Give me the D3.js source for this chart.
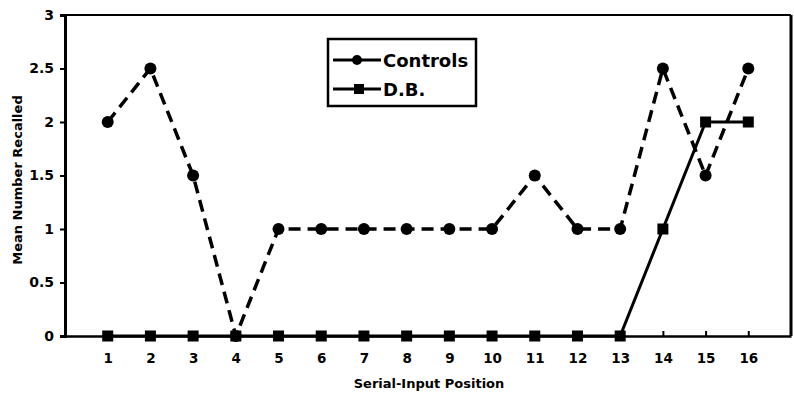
<!DOCTYPE html>
<html><head><meta charset="utf-8">
<script src="https://cdn.jsdelivr.net/npm/d3@7"></script>
<style>body{margin:0;background:#fff}svg{display:block}text{font-family:"DejaVu Sans",Arial,sans-serif;font-weight:bold;fill:#000}</style>
</head><body>
<svg id="c" width="794" height="400"></svg>
<script>
const positions = [1,2,3,4,5,6,7,8,9,10,11,12,13,14,15,16];
const controls = [2,2.5,1.5,0,1,1,1,1,1,1,1.5,1,1,2.5,1.5,2.5];
const db = [0,0,0,0,0,0,0,0,0,0,0,0,0,1,2,2];
const yTicks = [0,0.5,1,1.5,2,2.5,3];
const seriesNames = ["Controls","D.B."];

const svg = d3.select("#c");
const L=65,R=791,T=15,B=336;
const x = d3.scaleLinear().domain([0,17]).range([L,R]);
const y = d3.scaleLinear().domain([0,3]).range([B,T]);
const FF = "DejaVu Sans, Arial, sans-serif";

// frame
svg.append("line").attr("x1",L).attr("x2",R).attr("y1",T).attr("y2",T).attr("stroke","#000").attr("stroke-width",2);
svg.append("line").attr("x1",R).attr("x2",R).attr("y1",T).attr("y2",B).attr("stroke","#000").attr("stroke-width",3);

// y axis
const ya = svg.append("g").attr("transform",`translate(${L},0)`)
  .call(d3.axisLeft(y).tickValues(yTicks).tickFormat(d=>String(d)).tickSize(5).tickPadding(6));
ya.select(".domain").attr("stroke-width",3);
ya.selectAll(".tick line").attr("stroke-width",2);
ya.selectAll("text").style("font-size","14px").style("font-family",FF).style("font-weight","bold");

// x axis
const xa = svg.append("g").attr("transform",`translate(0,${B})`)
  .call(d3.axisBottom(x).tickValues(positions).tickFormat(d=>String(d)).tickSize(-5).tickPadding(17).tickSizeOuter(0));
xa.select(".domain").attr("stroke-width",2.5);
xa.selectAll(".tick line").attr("stroke-width",2);
xa.selectAll("text").style("font-size","13.5px").style("font-family",FF).style("font-weight","bold");

// axis titles
svg.append("text").attr("transform","translate(22,180) rotate(-90)").attr("text-anchor","middle").style("font-size","13px").text("Mean Number Recalled");
svg.append("text").attr("x",429).attr("y",388).attr("text-anchor","middle").style("font-size","13px").text("Serial-Input Position");

const line = d3.line().x((d,i)=>x(positions[i])).y(d=>y(d));
// Controls
svg.append("path").datum(controls).attr("d",line).attr("fill","none").attr("stroke","#000").attr("stroke-width",3.5).attr("stroke-dasharray","12,7");
svg.selectAll(".cc").data(controls).enter().append("circle").attr("cx",(d,i)=>x(positions[i])).attr("cy",d=>y(d)).attr("r",6).attr("fill","#000");
// D.B.
svg.append("path").datum(db).attr("d",line).attr("fill","none").attr("stroke","#000").attr("stroke-width",3);
svg.selectAll(".ds").data(db).enter().append("rect").attr("x",(d,i)=>x(positions[i])-5.5).attr("y",d=>y(d)-5.5).attr("width",11).attr("height",11).attr("fill","#000");

// legend
const lg = svg.append("g");
lg.append("rect").attr("x",328).attr("y",39).attr("width",148).attr("height",67).attr("fill","#fff").attr("stroke","#000").attr("stroke-width",2.5);
seriesNames.forEach((n,i)=>{
  const yy = 60 + i*29;
  lg.append("line").attr("x1",333).attr("x2",381).attr("y1",yy).attr("y2",yy).attr("stroke","#000").attr("stroke-width",3);
  if(i===0) lg.append("circle").attr("cx",357).attr("cy",yy).attr("r",5).attr("fill","#000");
  else lg.append("rect").attr("x",354).attr("y",yy-5).attr("width",10).attr("height",10).attr("fill","#000");
  lg.append("text").attr("x",383).attr("y",yy+7).style("font-size","18px").text(n);
});
</script>
</body></html>
